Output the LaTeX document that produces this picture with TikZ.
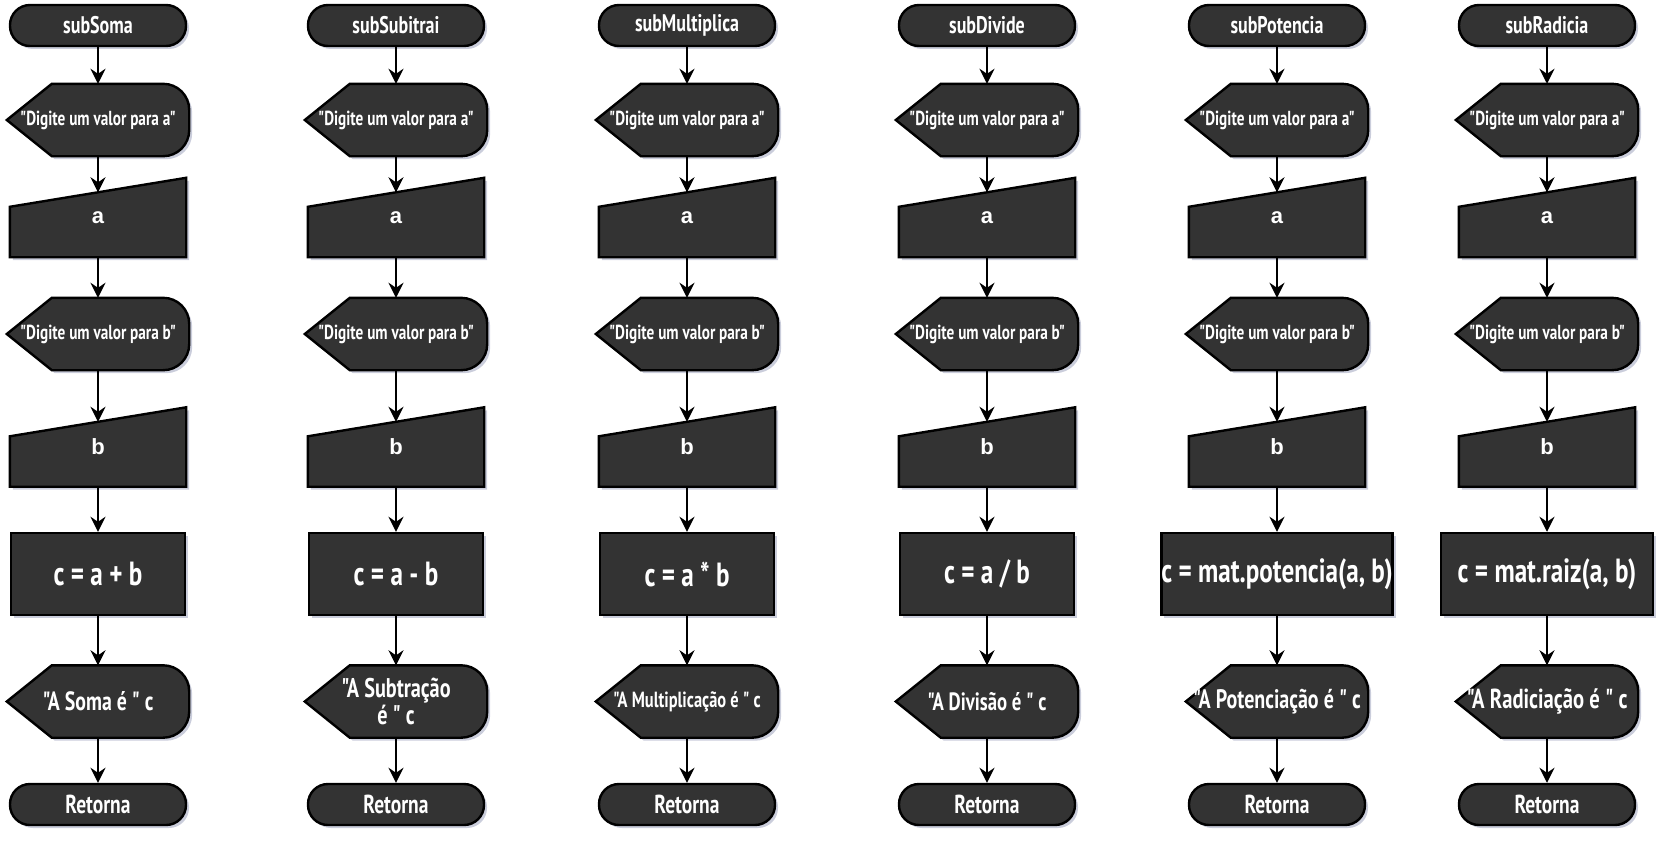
\documentclass[tikz,border=0pt]{standalone}
\usepackage{fontspec}
\setmainfont{PT Sans}[FakeStretch=0.75, Ligatures=TeXOff]
\newfontfamily\arialfont{Liberation Sans}
\usepackage{tikz}
\usetikzlibrary{arrows.meta, calc, backgrounds, shadows}
\definecolor{fluxoFundo}{HTML}{333333}
\definecolor{fluxoSombra}{HTML}{B4B8CC}
\tikzset{
  %% -- Formas --------------------------------------------------------
  forma/.style      = {draw=black, line width=2.4pt, fill=fluxoFundo,
                       drop shadow={shadow xshift=3pt, shadow yshift=-3pt,
                                    fill=fluxoSombra, opacity=0.7}},
  rotulo/.style     = {text=white, align=center, inner sep=0pt},
  terminal/.style   = {forma, rotulo, rounded corners=20pt, minimum width=176pt,
                       minimum height=41pt, font=\fontsize{24}{26}\selectfont\bfseries},
  processo/.style   = {forma, rotulo, minimum height=82pt,
                       font=\fontsize{33.5}{35}\selectfont\bfseries},
  tela/.style       = {rotulo, minimum width=182pt, minimum height=72pt},
  entrada/.style    = {rotulo, minimum width=176pt, minimum height=79pt,
                       font=\arialfont\fontsize{22}{24}\selectfont\bfseries},
  %% -- Setas ---------------------------------------------------------
  seta/.style       = {-{Stealth[length=15pt, width=15pt, inset=5pt]},
                       line width=2.8pt},
  %% a borda inclinada da entrada fica abaixo do norte do no
  setaEntrada/.style = {seta, shorten >=-14.5pt},
}
%% desenha o contorno das formas que o TikZ nao tem
\newcommand{\formaTela}[1]{%
  \draw[forma] (#1.west) -- ([xshift=45pt]#1.north west)
    -- ([xshift=-26pt]#1.north east) arc[start angle=90, end angle=0, radius=26pt]
    -- ([yshift=26pt]#1.south east) arc[start angle=0, end angle=-90, radius=26pt]
    -- ([xshift=45pt]#1.south west) -- cycle;}
\newcommand{\formaEntrada}[1]{%
  \draw[forma] (#1.south west) -- ([yshift=-29pt]#1.north west)
    -- (#1.north east) -- (#1.south east) -- cycle;}

\begin{document}
\begin{tikzpicture}[x=1pt, y=-1pt,
    pergunta/.style = {tela, font=\fontsize{20.3}{22}\selectfont\bfseries}]

\useasboundingbox (0,0) rectangle (1667,843);

\foreach \i/\cx/\nome/\pl/\conta/\saida/\fs in {
    1/98/subSoma/174/{c = a + b}/{"A Soma é " c}/26.4,
    2/396/subSubitrai/174/{c = a - b}/{"A Subtração\\é " c}/27,
    3/687/subMultiplica/174/{c = a * b}/{"A Multiplicação é " c}/21.9,
    4/987/subDivide/174/{c = a / b}/{"A Divisão é " c}/25,
    5/1277/subPotencia/230/{c = mat.potencia(a, b)}/{"A Potenciação é " c}/26.7,
    6/1547/subRadicia/212/{c = mat.raiz(a, b)}/{"A Radiciação é " c}/27.5}
{
  \node[terminal] (t\i)  at (\cx, 25.5)  {\nome};
  \node[pergunta] (da\i) at (\cx, 120)   {"Digite um valor para a"};
  \node[entrada]  (ma\i) at (\cx, 217.5) {a};
  \node[pergunta] (db\i) at (\cx, 334)   {"Digite um valor para b"};
  \node[entrada]  (mb\i) at (\cx, 447)   {b};
  \node[processo, minimum width=\pl pt] (p\i) at (\cx, 574) {\conta};
  \node[tela, font=\fontsize{\fs}{\fs}\selectfont\bfseries] (ds\i) at (\cx, 701.5) {\saida};
  \node[terminal, font=\fontsize{26}{28}\selectfont\bfseries] (r\i) at (\cx, 804.5) {Retorna};

  \begin{scope}[on background layer]
    \formaTela{da\i} \formaTela{db\i} \formaTela{ds\i}
    \formaEntrada{ma\i} \formaEntrada{mb\i}
  \end{scope}

  \draw[seta] (t\i) -- (da\i);
  \draw[setaEntrada] (da\i) -- (ma\i);
  \draw[seta] (ma\i) -- (db\i);
  \draw[setaEntrada] (db\i) -- (mb\i);
  \foreach \a/\b in {mb/p, p/ds, ds/r} \draw[seta] (\a\i) -- (\b\i);
}

\end{tikzpicture}
\end{document}
